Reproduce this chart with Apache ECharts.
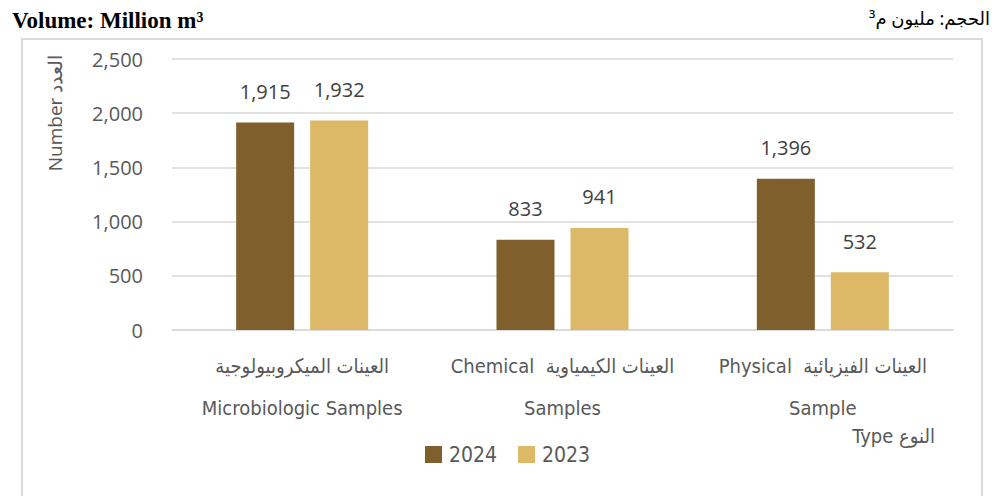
<!DOCTYPE html>
<html>
<head>
<meta charset="utf-8">
<script src="https://cdn.jsdelivr.net/npm/echarts@6/dist/echarts.min.js"></script>
<style>
  html, body { margin: 0; padding: 0; background: #fff; }
  #chart { width: 995px; height: 496px; }
</style>
</head>
<body>
<div id="chart"></div>
<script>
// 数据
var categories = [
    'العينات الميكروبيولوجية\nMicrobiologic Samples',
    'Chemical  العينات الكيمياوية\nSamples',
    'Physical  العينات الفيزيائية\nSample'
];
var seriesNames = ['2024', '2023'];
var values2024 = [1915, 833, 1396];
var values2023 = [1932, 941, 532];
var yTicks = { min: 0, max: 2500, interval: 500 };

(function() {
    var myChart = echarts.init(document.getElementById('chart'), null, { renderer: 'svg' });
    var colors = ['#7f5f2b', '#ddb967'];
    var narrow = '"Liberation Sans Narrow", "DejaVu Sans Condensed", "Noto Sans", sans-serif';
    var sans = '"Open Sans", "Noto Sans", sans-serif';

    var option = {
        animation: false,
        backgroundColor: '#ffffff',
        color: colors,
        grid: { left: 172, right: 42, top: 59, bottom: 166 },
        legend: {
            data: seriesNames,
            left: 420,
            top: 439,
            icon: 'rect',
            itemWidth: 17,
            itemHeight: 17,
            itemGap: 21,
            textStyle: {
                fontFamily: narrow,
                fontSize: 21,
                color: '#595959',
                padding: [0, 0, 0, 2]
            }
        },
        xAxis: {
            type: 'category',
            data: categories,
            axisLine: { lineStyle: { color: '#d9d9d9', width: 1.5 } },
            axisTick: { show: false },
            axisLabel: {
                margin: 15,
                fontFamily: narrow,
                fontSize: 20,
                lineHeight: 42,
                color: '#595959',
                interval: 0
            }
        },
        yAxis: {
            type: 'value',
            min: yTicks.min,
            max: yTicks.max,
            interval: yTicks.interval,
            axisLine: { show: false },
            axisTick: { show: false },
            splitLine: { lineStyle: { color: '#d9d9d9', width: 1.5 } },
            axisLabel: {
                margin: 29,
                fontFamily: sans,
                fontSize: 20,
                color: '#595959',
                formatter: function(v) { return v.toLocaleString('en-US'); }
            }
        },
        series: [values2024, values2023].map(function(d, i) {
            return {
                name: seriesNames[i],
                type: 'bar',
                data: d,
                barWidth: 58,
                barGap: '27.6%',
                label: {
                    show: true,
                    position: 'top',
                    distance: 21,
                    fontFamily: sans,
                    fontSize: 20,
                    color: '#404040',
                    formatter: function(p) { return p.value.toLocaleString('en-US'); }
                }
            };
        }),
        graphic: [
            {
                type: 'rect',
                shape: { x: 22, y: 39, width: 960, height: 480 },
                style: { fill: 'none', stroke: '#d9d9d9', lineWidth: 2 },
                silent: true
            },
            {
                type: 'text',
                x: 12,
                y: 20,
                style: {
                    text: 'Volume: Million m³',
                    font: 'bold 23px "Liberation Serif", "Times New Roman", serif',
                    fill: '#000',
                    verticalAlign: 'middle'
                }
            },
            {
                type: 'text',
                x: 990,
                y: 18,
                style: {
                    text: 'الحجم: مليون م³',
                    font: '18px "Noto Sans", "DejaVu Sans", sans-serif',
                    fill: '#000',
                    align: 'right',
                    verticalAlign: 'middle'
                }
            },
            {
                type: 'text',
                x: 55,
                y: 113,
                rotation: Math.PI / 2,
                style: {
                    text: 'Number العدد',
                    font: '19px ' + sans,
                    fill: '#595959',
                    align: 'center',
                    verticalAlign: 'middle'
                }
            },
            {
                type: 'text',
                x: 935,
                y: 436,
                style: {
                    text: 'Type النوع',
                    font: '20px ' + narrow,
                    fill: '#595959',
                    align: 'right',
                    verticalAlign: 'middle'
                }
            }
        ]
    };
    myChart.setOption(option);
    window.addEventListener('resize', function() {
        myChart.resize();
    });
})();
</script>
</body>
</html>
